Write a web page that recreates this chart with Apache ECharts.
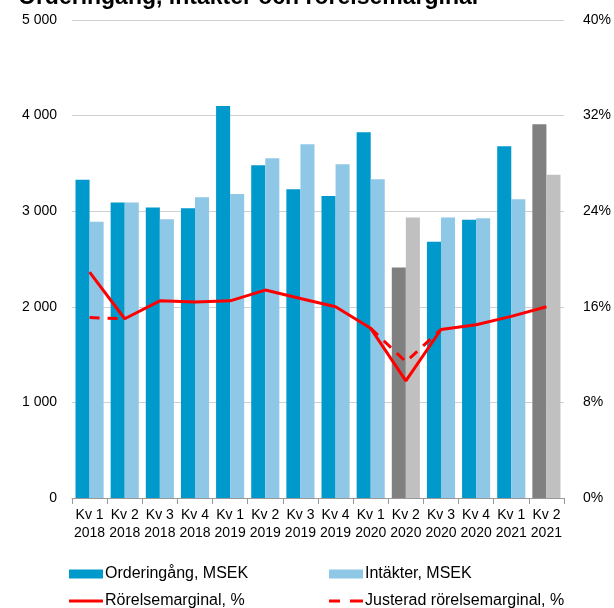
<!DOCTYPE html>
<html>
<head>
<meta charset="utf-8">
<script src="https://cdn.jsdelivr.net/npm/echarts@6/dist/echarts.min.js"></script>
<style>
  html, body { margin: 0; padding: 0; background: #fff; }
  #chart { width: 614px; height: 608px; }
</style>
</head>
<body>
<div id="chart"></div>
<script>
// kvartal
const quarters = ['Kv 1\n2018', 'Kv 2\n2018', 'Kv 3\n2018', 'Kv 4\n2018',
  'Kv 1\n2019', 'Kv 2\n2019', 'Kv 3\n2019', 'Kv 4\n2019',
  'Kv 1\n2020', 'Kv 2\n2020', 'Kv 3\n2020', 'Kv 4\n2020',
  'Kv 1\n2021', 'Kv 2\n2021'];
// MSEK
const orders = [3330, 3090, 3040, 3030, 4100, 3480, 3230, 3160, 3825, 2410, 2680, 2910, 3680, 3910];
const revenue = [2890, 3090, 2915, 3145, 3180, 3555, 3700, 3490, 3335, 2935, 2935, 2925, 3125, 3380];
// procent
const margin = [18.9, 15.0, 16.5, 16.4, 16.5, 17.4, 16.7, 16.0, 14.2, 9.8, 14.1, 14.5, 15.2, 16.0];
const adjMargin = [15.1, 15.0, null, null, null, null, null, null, 14.2, 11.4, 14.1, null, null, null];
// ticks
const leftTicks = [0, 1000, 2000, 3000, 4000, 5000];
const rightTicks = [0, 8, 16, 24, 32, 40];

// Kv 2 2020 och Kv 2 2021 visas i grått
const greyQuarters = ['Kv 2\n2020', 'Kv 2\n2021'];

let chart = echarts.init(document.getElementById('chart'));

function colored(values, normal, grey) {
  return values.map(function (v, i) {
    return {
      value: v,
      itemStyle: { color: greyQuarters.indexOf(quarters[i]) >= 0 ? grey : normal }
    };
  });
}

const font = 'Liberation Sans, Arial, sans-serif';

// en legend per post, 2x2
function legendItem(name, icon, color, left, top, h) {
  return {
    left: left, top: top,
    itemWidth: 34, itemHeight: h,
    textStyle: { fontSize: 16, color: '#000', padding: [0, 0, 0, -3] },
    data: [{
      name: name, icon: icon,
      itemStyle: { color: color, borderWidth: 0, opacity: 1 },
      lineStyle: { width: 0, opacity: 0 }
    }]
  };
}

let option = {
  animation: false,
  textStyle: { fontFamily: font },
  title: {
    text: 'Orderingång, intäkter och rörelsemarginal',
    left: 13,
    top: -19,
    textStyle: { fontSize: 23, fontWeight: 'bold', color: '#000', fontFamily: font }
  },
  grid: { left: 72, right: 47, top: 20, bottom: 110 },
  legend: [
    legendItem('Orderingång, MSEK', 'rect', '#0099CC', 64, 561, 9),
    legendItem('Intäkter, MSEK', 'rect', '#8FC7E7', 324, 561, 9),
    legendItem('Rörelsemarginal, %', 'rect', '#FF0000', 64, 588, 3),
    legendItem('Justerad rörelsemarginal, %', 'path://M0,0H11V3H0Z M21,0H34V3H21Z', '#FF0000', 324, 588, 3)
  ],
  xAxis: {
    type: 'category',
    data: quarters,
    axisLine: { lineStyle: { color: '#999' } },
    axisTick: { show: true, length: 6, lineStyle: { color: '#999' } },
    axisLabel: { color: '#000', fontSize: 14, lineHeight: 18, margin: 8, interval: 0 }
  },
  yAxis: [
    {
      type: 'value', min: leftTicks[0], max: leftTicks[leftTicks.length - 1], interval: 1000,
      axisLine: { show: false },
      axisTick: { show: false },
      splitLine: { lineStyle: { color: '#d0d0d0', width: 1 } },
      axisLabel: {
        color: '#000', fontSize: 14, margin: 15,
        formatter: function (v) { return String(v).replace(/\B(?=(\d{3})+(?!\d))/g, ' '); }
      }
    },
    {
      type: 'value', min: rightTicks[0], max: rightTicks[rightTicks.length - 1], interval: 8,
      axisLine: { show: false },
      axisTick: { show: false },
      splitLine: { show: false },
      axisLabel: { color: '#000', fontSize: 14, margin: 19, formatter: '{value}%' }
    }
  ],
  series: [
    {
      name: 'Orderingång, MSEK',
      type: 'bar',
      data: colored(orders, '#0099CC', '#808080'),
      itemStyle: { color: '#0099CC' },
      barGap: '0%',
      barCategoryGap: '20%'
    },
    {
      name: 'Intäkter, MSEK',
      type: 'bar',
      data: colored(revenue, '#8FC7E7', '#C0C0C0'),
      itemStyle: { color: '#8FC7E7' }
    },
    {
      name: 'Rörelsemarginal, %',
      type: 'line',
      yAxisIndex: 1,
      data: margin,
      symbol: 'none',
      color: '#FF0000',
      lineStyle: { color: '#FF0000', width: 3 },
      z: 5
    },
    {
      name: 'Justerad rörelsemarginal, %',
      type: 'line',
      yAxisIndex: 1,
      data: adjMargin,
      symbol: 'none',
      connectNulls: false,
      color: '#FF0000',
      lineStyle: { color: '#FF0000', width: 3, type: [10, 8] },
      z: 4
    }
  ]
};

chart.setOption(option);
</script>
</body>
</html>
